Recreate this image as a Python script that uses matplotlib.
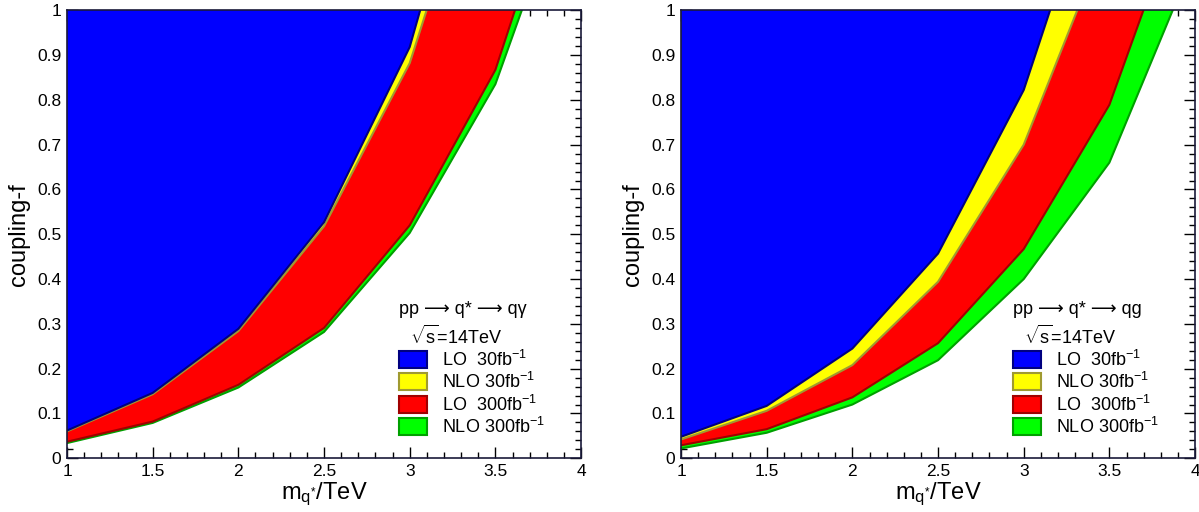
import numpy as np
import matplotlib
matplotlib.use('Agg')
from matplotlib import pyplot as plt
from matplotlib.patches import Rectangle

plt.rcParams['font.family'] = ['Liberation Sans', 'DejaVu Sans']
plt.rcParams['mathtext.fontset'] = 'custom'
plt.rcParams['mathtext.rm'] = 'Liberation Sans'
plt.rcParams['mathtext.it'] = 'Liberation Sans:italic'

# masses (TeV)
mass = [1, 1.5, 2, 2.5, 3, 3.5, 4]

# pp -> q* -> q gamma  (reach in coupling f)
lo30_qgam = [0.062, 0.146, 0.289, 0.527, 0.918, 1.59, 2.2]
nlo30_qgam = [0.060, 0.143, 0.284, 0.518, 0.882, 1.48, 2.1]
lo300_qgam = [0.037, 0.082, 0.164, 0.291, 0.52, 0.867, 1.45]
nlo300_qgam = [0.034, 0.079, 0.158, 0.282, 0.503, 0.835, 1.37]

# pp -> q* -> q g
lo30_qg = [0.048, 0.117, 0.245, 0.457, 0.822, 1.40, 2.0]
nlo30_qg = [0.042, 0.106, 0.208, 0.394, 0.70, 1.18, 1.7]
lo300_qg = [0.029, 0.065, 0.136, 0.257, 0.467, 0.789, 1.32]
nlo300_qg = [0.022, 0.057, 0.12, 0.219, 0.40, 0.66, 1.12]

labels = ['LO  30fb$^{-1}$', 'NLO 30fb$^{-1}$', 'LO  300fb$^{-1}$', 'NLO 300fb$^{-1}$']
fills = ['#0000ff', '#ffff00', '#ff0000', '#00ff00']
edges = ['#000080', '#a09a30', '#a00000', '#00a000']
xticks = [1, 1.5, 2, 2.5, 3, 3.5, 4]
yticks = [0, 0.1, 0.2, 0.3, 0.4, 0.5, 0.6, 0.7, 0.8, 0.9, 1]


def panel(ax, curves, title):
    # draw from widest band to narrowest so blue sits on top
    for i in [3, 2, 1, 0]:
        ax.fill_between(mass, curves[i], 3, color=fills[i], lw=0, zorder=1)
        ax.plot(mass, curves[i], color=edges[i], lw=1.5, zorder=1.5)
    ax.set_xlim(1, 4)
    ax.set_ylim(0, 1)
    ax.set_axisbelow(True)
    ax.set_xticks(xticks)
    ax.set_xticklabels(['1', '1.5', '2', '2.5', '3', '3.5', '4'])
    ax.set_yticks(yticks)
    ax.set_yticklabels(['0', '0.1', '0.2', '0.3', '0.4', '0.5', '0.6', '0.7', '0.8', '0.9', '1'])
    ax.set_xticks(np.arange(1, 4.001, 0.1), minor=True)
    ax.set_yticks(np.arange(0, 1.001, 0.02), minor=True)
    ax.tick_params(which='both', direction='in', top=True, right=True, labelsize=12.5,
                   color='black', width=1)
    ax.tick_params(which='major', length=8, pad=4)
    ax.tick_params(which='minor', length=4)
    for s in ax.spines.values():
        s.set_color('#1a1a3a')
        s.set_linewidth(1.2)
    ax.set_xlabel(r'm$_{\mathregular{q^{*}}}$/TeV', fontsize=17, labelpad=1)
    ax.set_ylabel('coupling-f', fontsize=17, labelpad=5)

    tr = ax.transAxes
    ax.text(0.646, 0.333, title, transform=tr, fontsize=13, va='center', ha='left')
    ax.text(0.667, 0.273, r'$\sqrt{\mathregular{s}}$=14TeV', transform=tr, fontsize=13, va='center', ha='left')
    rows = [0.2205, 0.171, 0.120, 0.0705]
    for i in range(4):
        ax.add_patch(Rectangle((0.645, rows[i] - 0.019), 0.0545, 0.038, transform=tr,
                               facecolor=fills[i], edgecolor=edges[i], lw=1.5, zorder=5))
        ax.text(0.729, rows[i], labels[i], transform=tr, fontsize=13, va='center', ha='left', zorder=5)


fig = plt.figure(figsize=(11.99, 5.12), dpi=100)
ax1 = fig.add_axes([0.0559, 0.1049, 0.4287, 0.875])
ax2 = fig.add_axes([0.568, 0.1049, 0.4287, 0.875])

panel(ax1, [lo30_qgam, nlo30_qgam, lo300_qgam, nlo300_qgam], 'pp \u27f6 q* \u27f6 q\u03b3')
panel(ax2, [lo30_qg, nlo30_qg, lo300_qg, nlo300_qg], 'pp \u27f6 q* \u27f6 qg')

fig.savefig('out.png', dpi=100)
